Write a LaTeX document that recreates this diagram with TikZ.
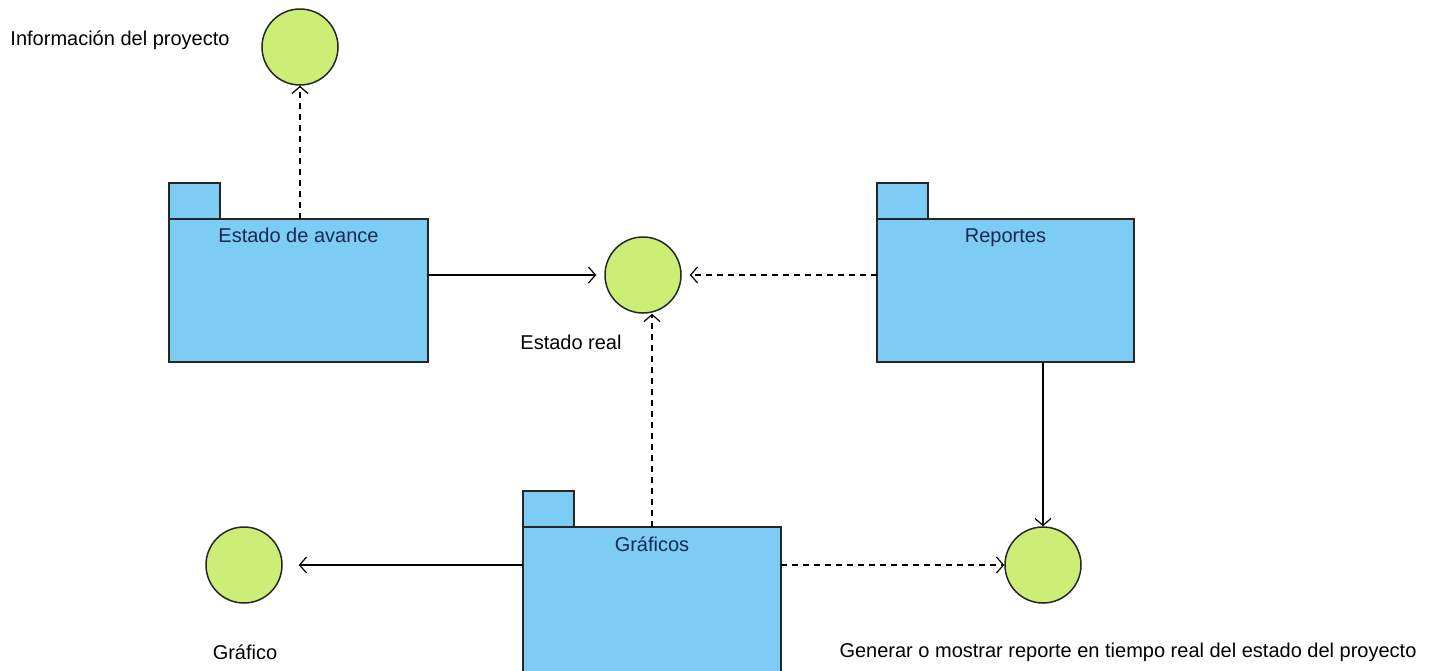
\documentclass[tikz,border=0pt]{standalone}
\usepackage{fontspec}
\setmainfont{Liberation Sans}
\usepackage{xcolor}
\usetikzlibrary{arrows.meta}
\definecolor{pkgblue}{RGB}{124,204,245}
\definecolor{ifgreen}{RGB}{204,238,119}
\definecolor{pkgtext}{RGB}{25,40,80}

\begin{document}
\begin{tikzpicture}[x=0.5pt,y=-0.5pt,
	iface/.style={circle,draw=black!85,fill=ifgreen,line width=0.75pt,minimum size=38pt,inner sep=0pt},
	pkg/.style={rectangle,draw=black!85,fill=pkgblue,line width=0.75pt,minimum width=129.5pt,minimum height=71.5pt,inner sep=0pt,outer sep=0pt},
	pkgtab/.style={rectangle,draw=black!85,fill=pkgblue,line width=0.75pt,minimum width=25.5pt,minimum height=18pt,inner sep=0pt,outer sep=0pt,anchor=south west},
	pkgname/.style={anchor=north,text=pkgtext,inner sep=4.5pt},
	dep/.style={line width=0.6pt,dash pattern=on 3pt off 2.5pt,-{Straight Barb[length=3.5pt,width=8pt]}},
	use/.style={line width=0.6pt,-{Straight Barb[length=3.5pt,width=8pt]}}
]
\useasboundingbox (0,0) rectangle (1435,670);

% interfaces
\node[iface] (info) at (300,47) {};
\node[iface] (real) at (643,275) {};
\node[iface] (graf) at (244,565) {};
\node[iface] (gen) at (1043,565) {};

% packages
\node[pkg] (est) at (298.5,290.5) {};
\node[pkgtab] (esttab) at (est.north west) {};
\node[pkgname] (estname) at (est.north) {Estado de avance};

\node[pkg,minimum width=128.5pt] (rep) at (1005.5,290.5) {};
\node[pkgtab] (reptab) at (rep.north west) {};
\node[pkgname] (repname) at (rep.north) {Reportes};

\node[pkg,minimum width=129pt,minimum height=74pt] (gra) at (652,601) {};
\node[pkgtab] (gratab) at (gra.north west) {};
\node[pkgname] (graname) at (gra.north) {Gráficos};

% labels
\node (infolbl) at (120,40) {Información del proyecto};
\node (reallbl) at (571,342) {Estado real};
\node (graflbl) at (245,652) {Gráfico};
\node (genlbl) at (1128,652) {Generar o mostrar reporte en tiempo real del estado del proyecto};

% connectors
\draw[dep] (info.south |- est.north) -- (info.south);
\draw[use,shorten >=4pt] (est.east |- real.west) -- (real.west);
\draw[dep,shorten >=4pt] (rep.west |- real.east) -- (real.east);
\draw[dep] (gra.north) -- (gra.north |- real.south);
\draw[use,shorten >=8pt] (gra.west |- graf.east) -- (graf.east);
\draw[dep] (gra.east |- gen.west) -- (gen.west);
\draw[use] (gen.north |- rep.south) -- (gen.north);
\end{tikzpicture}
\end{document}
